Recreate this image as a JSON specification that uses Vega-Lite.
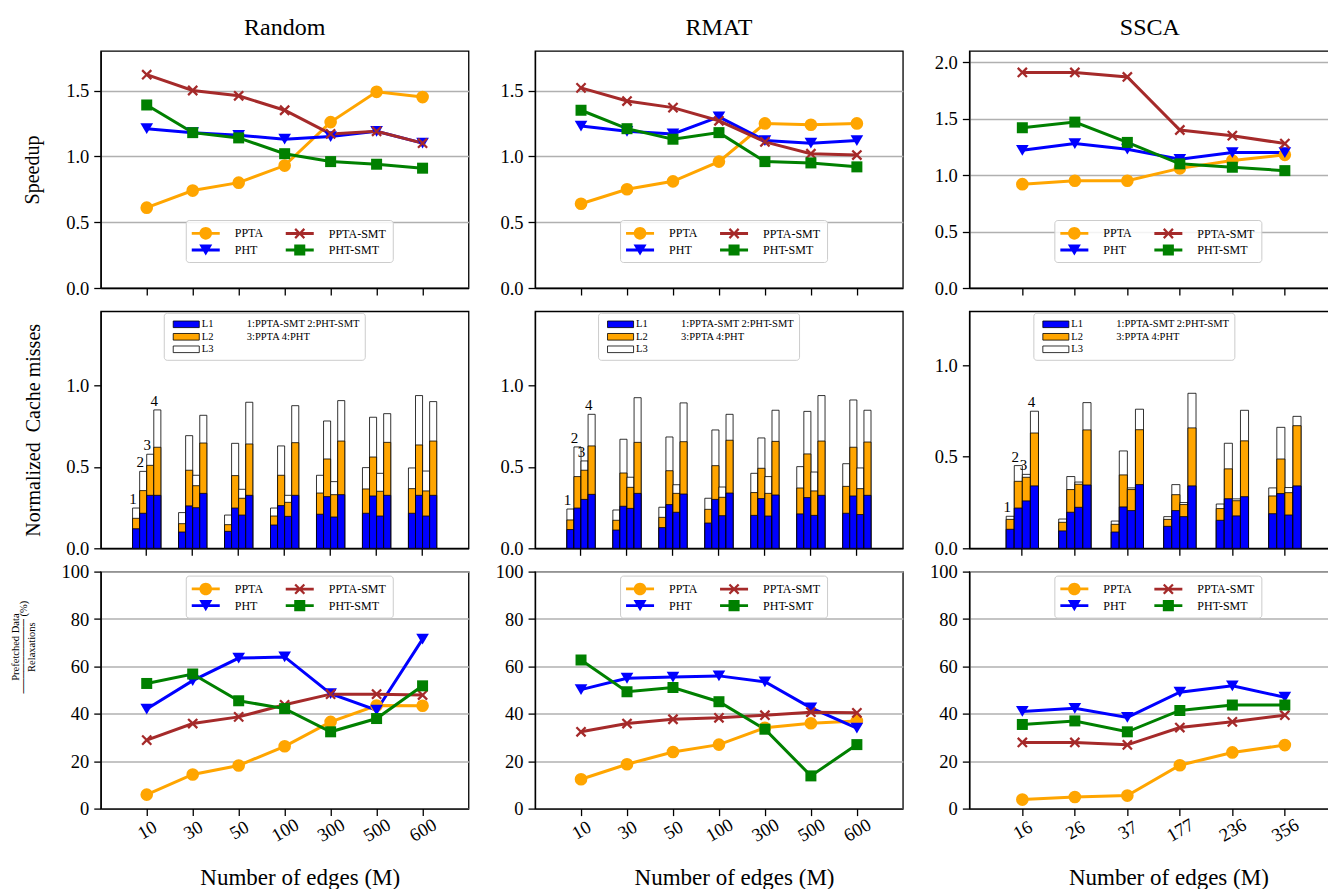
{
  "$schema": "https://vega.github.io/schema/vega-lite/v6.json",
  "padding": {"left": 9.75, "top": 15, "right": 0, "bottom": 0},
  "background": "white",
  "datasets": {
    "speed": [
      {"set":"Random","edges":10,"series":"PPTA","v":0.61},{"set":"Random","edges":30,"series":"PPTA","v":0.74},{"set":"Random","edges":50,"series":"PPTA","v":0.80},{"set":"Random","edges":100,"series":"PPTA","v":0.93},{"set":"Random","edges":300,"series":"PPTA","v":1.26},{"set":"Random","edges":500,"series":"PPTA","v":1.49},{"set":"Random","edges":600,"series":"PPTA","v":1.45},
      {"set":"Random","edges":10,"series":"PHT","v":1.21},{"set":"Random","edges":30,"series":"PHT","v":1.18},{"set":"Random","edges":50,"series":"PHT","v":1.16},{"set":"Random","edges":100,"series":"PHT","v":1.13},{"set":"Random","edges":300,"series":"PHT","v":1.15},{"set":"Random","edges":500,"series":"PHT","v":1.19},{"set":"Random","edges":600,"series":"PHT","v":1.10},
      {"set":"Random","edges":10,"series":"PPTA-SMT","v":1.62},{"set":"Random","edges":30,"series":"PPTA-SMT","v":1.50},{"set":"Random","edges":50,"series":"PPTA-SMT","v":1.46},{"set":"Random","edges":100,"series":"PPTA-SMT","v":1.35},{"set":"Random","edges":300,"series":"PPTA-SMT","v":1.17},{"set":"Random","edges":500,"series":"PPTA-SMT","v":1.19},{"set":"Random","edges":600,"series":"PPTA-SMT","v":1.10},
      {"set":"Random","edges":10,"series":"PHT-SMT","v":1.39},{"set":"Random","edges":30,"series":"PHT-SMT","v":1.18},{"set":"Random","edges":50,"series":"PHT-SMT","v":1.14},{"set":"Random","edges":100,"series":"PHT-SMT","v":1.02},{"set":"Random","edges":300,"series":"PHT-SMT","v":0.96},{"set":"Random","edges":500,"series":"PHT-SMT","v":0.94},{"set":"Random","edges":600,"series":"PHT-SMT","v":0.91},
      {"set":"RMAT","edges":10,"series":"PPTA","v":0.64},{"set":"RMAT","edges":30,"series":"PPTA","v":0.75},{"set":"RMAT","edges":50,"series":"PPTA","v":0.81},{"set":"RMAT","edges":100,"series":"PPTA","v":0.96},{"set":"RMAT","edges":300,"series":"PPTA","v":1.25},{"set":"RMAT","edges":500,"series":"PPTA","v":1.24},{"set":"RMAT","edges":600,"series":"PPTA","v":1.25},
      {"set":"RMAT","edges":10,"series":"PHT","v":1.23},{"set":"RMAT","edges":30,"series":"PHT","v":1.19},{"set":"RMAT","edges":50,"series":"PHT","v":1.17},{"set":"RMAT","edges":100,"series":"PHT","v":1.30},{"set":"RMAT","edges":300,"series":"PHT","v":1.12},{"set":"RMAT","edges":500,"series":"PHT","v":1.10},{"set":"RMAT","edges":600,"series":"PHT","v":1.12},
      {"set":"RMAT","edges":10,"series":"PPTA-SMT","v":1.52},{"set":"RMAT","edges":30,"series":"PPTA-SMT","v":1.42},{"set":"RMAT","edges":50,"series":"PPTA-SMT","v":1.37},{"set":"RMAT","edges":100,"series":"PPTA-SMT","v":1.27},{"set":"RMAT","edges":300,"series":"PPTA-SMT","v":1.11},{"set":"RMAT","edges":500,"series":"PPTA-SMT","v":1.02},{"set":"RMAT","edges":600,"series":"PPTA-SMT","v":1.01},
      {"set":"RMAT","edges":10,"series":"PHT-SMT","v":1.35},{"set":"RMAT","edges":30,"series":"PHT-SMT","v":1.21},{"set":"RMAT","edges":50,"series":"PHT-SMT","v":1.13},{"set":"RMAT","edges":100,"series":"PHT-SMT","v":1.18},{"set":"RMAT","edges":300,"series":"PHT-SMT","v":0.96},{"set":"RMAT","edges":500,"series":"PHT-SMT","v":0.95},{"set":"RMAT","edges":600,"series":"PHT-SMT","v":0.92},
      {"set":"SSCA","edges":16,"series":"PPTA","v":0.92},{"set":"SSCA","edges":26,"series":"PPTA","v":0.95},{"set":"SSCA","edges":37,"series":"PPTA","v":0.95},{"set":"SSCA","edges":177,"series":"PPTA","v":1.06},{"set":"SSCA","edges":236,"series":"PPTA","v":1.13},{"set":"SSCA","edges":356,"series":"PPTA","v":1.18},
      {"set":"SSCA","edges":16,"series":"PHT","v":1.22},{"set":"SSCA","edges":26,"series":"PHT","v":1.28},{"set":"SSCA","edges":37,"series":"PHT","v":1.23},{"set":"SSCA","edges":177,"series":"PHT","v":1.14},{"set":"SSCA","edges":236,"series":"PHT","v":1.20},{"set":"SSCA","edges":356,"series":"PHT","v":1.20},
      {"set":"SSCA","edges":16,"series":"PPTA-SMT","v":1.91},{"set":"SSCA","edges":26,"series":"PPTA-SMT","v":1.91},{"set":"SSCA","edges":37,"series":"PPTA-SMT","v":1.87},{"set":"SSCA","edges":177,"series":"PPTA-SMT","v":1.40},{"set":"SSCA","edges":236,"series":"PPTA-SMT","v":1.35},{"set":"SSCA","edges":356,"series":"PPTA-SMT","v":1.28},
      {"set":"SSCA","edges":16,"series":"PHT-SMT","v":1.42},{"set":"SSCA","edges":26,"series":"PHT-SMT","v":1.47},{"set":"SSCA","edges":37,"series":"PHT-SMT","v":1.29},{"set":"SSCA","edges":177,"series":"PHT-SMT","v":1.10},{"set":"SSCA","edges":236,"series":"PHT-SMT","v":1.07},{"set":"SSCA","edges":356,"series":"PHT-SMT","v":1.04}
    ],
    "pref": [
      {"set":"Random","edges":10,"series":"PPTA","v":5.9},{"set":"Random","edges":30,"series":"PPTA","v":14.4},{"set":"Random","edges":50,"series":"PPTA","v":18.2},{"set":"Random","edges":100,"series":"PPTA","v":26.3},{"set":"Random","edges":300,"series":"PPTA","v":36.6},{"set":"Random","edges":500,"series":"PPTA","v":43.5},{"set":"Random","edges":600,"series":"PPTA","v":43.4},
      {"set":"Random","edges":10,"series":"PHT","v":42.0},{"set":"Random","edges":30,"series":"PHT","v":54.0},{"set":"Random","edges":50,"series":"PHT","v":63.5},{"set":"Random","edges":100,"series":"PHT","v":64.0},{"set":"Random","edges":300,"series":"PHT","v":48.5},{"set":"Random","edges":500,"series":"PHT","v":41.5},{"set":"Random","edges":600,"series":"PHT","v":71.5},
      {"set":"Random","edges":10,"series":"PPTA-SMT","v":28.9},{"set":"Random","edges":30,"series":"PPTA-SMT","v":35.9},{"set":"Random","edges":50,"series":"PPTA-SMT","v":38.7},{"set":"Random","edges":100,"series":"PPTA-SMT","v":43.8},{"set":"Random","edges":300,"series":"PPTA-SMT","v":48.3},{"set":"Random","edges":500,"series":"PPTA-SMT","v":48.3},{"set":"Random","edges":600,"series":"PPTA-SMT","v":47.9},
      {"set":"Random","edges":10,"series":"PHT-SMT","v":52.8},{"set":"Random","edges":30,"series":"PHT-SMT","v":56.8},{"set":"Random","edges":50,"series":"PHT-SMT","v":45.5},{"set":"Random","edges":100,"series":"PHT-SMT","v":42.2},{"set":"Random","edges":300,"series":"PHT-SMT","v":32.4},{"set":"Random","edges":500,"series":"PHT-SMT","v":38.0},{"set":"Random","edges":600,"series":"PHT-SMT","v":51.8},
      {"set":"RMAT","edges":10,"series":"PPTA","v":12.4},{"set":"RMAT","edges":30,"series":"PPTA","v":18.7},{"set":"RMAT","edges":50,"series":"PPTA","v":23.9},{"set":"RMAT","edges":100,"series":"PPTA","v":27.0},{"set":"RMAT","edges":300,"series":"PPTA","v":34.1},{"set":"RMAT","edges":500,"series":"PPTA","v":36.0},{"set":"RMAT","edges":600,"series":"PPTA","v":37.0},
      {"set":"RMAT","edges":10,"series":"PHT","v":50.2},{"set":"RMAT","edges":30,"series":"PHT","v":55.0},{"set":"RMAT","edges":50,"series":"PHT","v":55.5},{"set":"RMAT","edges":100,"series":"PHT","v":56.0},{"set":"RMAT","edges":300,"series":"PHT","v":53.5},{"set":"RMAT","edges":500,"series":"PHT","v":42.5},{"set":"RMAT","edges":600,"series":"PHT","v":34.0},
      {"set":"RMAT","edges":10,"series":"PPTA-SMT","v":32.4},{"set":"RMAT","edges":30,"series":"PPTA-SMT","v":35.9},{"set":"RMAT","edges":50,"series":"PPTA-SMT","v":37.7},{"set":"RMAT","edges":100,"series":"PPTA-SMT","v":38.3},{"set":"RMAT","edges":300,"series":"PPTA-SMT","v":39.4},{"set":"RMAT","edges":500,"series":"PPTA-SMT","v":40.7},{"set":"RMAT","edges":600,"series":"PPTA-SMT","v":40.4},
      {"set":"RMAT","edges":10,"series":"PHT-SMT","v":62.7},{"set":"RMAT","edges":30,"series":"PHT-SMT","v":49.3},{"set":"RMAT","edges":50,"series":"PHT-SMT","v":51.1},{"set":"RMAT","edges":100,"series":"PHT-SMT","v":45.1},{"set":"RMAT","edges":300,"series":"PHT-SMT","v":33.5},{"set":"RMAT","edges":500,"series":"PHT-SMT","v":13.8},{"set":"RMAT","edges":600,"series":"PHT-SMT","v":27.0},
      {"set":"SSCA","edges":16,"series":"PPTA","v":3.8},{"set":"SSCA","edges":26,"series":"PPTA","v":4.9},{"set":"SSCA","edges":37,"series":"PPTA","v":5.5},{"set":"SSCA","edges":177,"series":"PPTA","v":18.3},{"set":"SSCA","edges":236,"series":"PPTA","v":23.7},{"set":"SSCA","edges":356,"series":"PPTA","v":26.8},
      {"set":"SSCA","edges":16,"series":"PHT","v":41.0},{"set":"SSCA","edges":26,"series":"PHT","v":42.3},{"set":"SSCA","edges":37,"series":"PHT","v":38.5},{"set":"SSCA","edges":177,"series":"PHT","v":49.1},{"set":"SSCA","edges":236,"series":"PHT","v":51.8},{"set":"SSCA","edges":356,"series":"PHT","v":47.0},
      {"set":"SSCA","edges":16,"series":"PPTA-SMT","v":27.9},{"set":"SSCA","edges":26,"series":"PPTA-SMT","v":27.9},{"set":"SSCA","edges":37,"series":"PPTA-SMT","v":26.9},{"set":"SSCA","edges":177,"series":"PPTA-SMT","v":34.2},{"set":"SSCA","edges":236,"series":"PPTA-SMT","v":36.6},{"set":"SSCA","edges":356,"series":"PPTA-SMT","v":39.4},
      {"set":"SSCA","edges":16,"series":"PHT-SMT","v":35.5},{"set":"SSCA","edges":26,"series":"PHT-SMT","v":37.0},{"set":"SSCA","edges":37,"series":"PHT-SMT","v":32.4},{"set":"SSCA","edges":177,"series":"PHT-SMT","v":41.4},{"set":"SSCA","edges":236,"series":"PHT-SMT","v":43.7},{"set":"SSCA","edges":356,"series":"PHT-SMT","v":43.7}
    ],
    "cache": [
      {"set":"Random","edges":10,"bar":1,"L1":0.120,"L2":0.184,"L3":0.247},{"set":"Random","edges":10,"bar":2,"L1":0.215,"L2":0.354,"L3":0.472},{"set":"Random","edges":10,"bar":3,"L1":0.325,"L2":0.509,"L3":0.577},{"set":"Random","edges":10,"bar":4,"L1":0.325,"L2":0.620,"L3":0.849},
      {"set":"Random","edges":30,"bar":1,"L1":0.100,"L2":0.151,"L3":0.219},{"set":"Random","edges":30,"bar":2,"L1":0.260,"L2":0.479,"L3":0.691},{"set":"Random","edges":30,"bar":3,"L1":0.249,"L2":0.384,"L3":0.448},{"set":"Random","edges":30,"bar":4,"L1":0.337,"L2":0.646,"L3":0.816},
      {"set":"Random","edges":50,"bar":1,"L1":0.104,"L2":0.145,"L3":0.204},{"set":"Random","edges":50,"bar":2,"L1":0.247,"L2":0.446,"L3":0.644},{"set":"Random","edges":50,"bar":3,"L1":0.204,"L2":0.307,"L3":0.362},{"set":"Random","edges":50,"bar":4,"L1":0.325,"L2":0.640,"L3":0.896},
      {"set":"Random","edges":100,"bar":1,"L1":0.143,"L2":0.198,"L3":0.247},{"set":"Random","edges":100,"bar":2,"L1":0.262,"L2":0.448,"L3":0.628},{"set":"Random","edges":100,"bar":3,"L1":0.196,"L2":0.282,"L3":0.325},{"set":"Random","edges":100,"bar":4,"L1":0.325,"L2":0.648,"L3":0.875},
      {"set":"Random","edges":300,"bar":1,"L1":0.209,"L2":0.339,"L3":0.448},{"set":"Random","edges":300,"bar":2,"L1":0.317,"L2":0.548,"L3":0.781},{"set":"Random","edges":300,"bar":3,"L1":0.192,"L2":0.329,"L3":0.409},{"set":"Random","edges":300,"bar":4,"L1":0.329,"L2":0.658,"L3":0.906},
      {"set":"Random","edges":500,"bar":1,"L1":0.215,"L2":0.364,"L3":0.495},{"set":"Random","edges":500,"bar":2,"L1":0.321,"L2":0.560,"L3":0.804},{"set":"Random","edges":500,"bar":3,"L1":0.198,"L2":0.350,"L3":0.460},{"set":"Random","edges":500,"bar":4,"L1":0.325,"L2":0.650,"L3":0.826},
      {"set":"Random","edges":600,"bar":1,"L1":0.215,"L2":0.366,"L3":0.493},{"set":"Random","edges":600,"bar":2,"L1":0.325,"L2":0.634,"L3":0.937},{"set":"Random","edges":600,"bar":3,"L1":0.198,"L2":0.352,"L3":0.474},{"set":"Random","edges":600,"bar":4,"L1":0.325,"L2":0.658,"L3":0.900},
      {"set":"RMAT","edges":10,"bar":1,"L1":0.115,"L2":0.174,"L3":0.241},{"set":"RMAT","edges":10,"bar":2,"L1":0.247,"L2":0.440,"L3":0.622},{"set":"RMAT","edges":10,"bar":3,"L1":0.300,"L2":0.479,"L3":0.536},{"set":"RMAT","edges":10,"bar":4,"L1":0.331,"L2":0.628,"L3":0.822},
      {"set":"RMAT","edges":30,"bar":1,"L1":0.112,"L2":0.172,"L3":0.235},{"set":"RMAT","edges":30,"bar":2,"L1":0.258,"L2":0.462,"L3":0.669},{"set":"RMAT","edges":30,"bar":3,"L1":0.245,"L2":0.374,"L3":0.436},{"set":"RMAT","edges":30,"bar":4,"L1":0.337,"L2":0.650,"L3":0.924},
      {"set":"RMAT","edges":50,"bar":1,"L1":0.127,"L2":0.190,"L3":0.252},{"set":"RMAT","edges":50,"bar":2,"L1":0.268,"L2":0.476,"L3":0.683},{"set":"RMAT","edges":50,"bar":3,"L1":0.221,"L2":0.337,"L3":0.390},{"set":"RMAT","edges":50,"bar":4,"L1":0.333,"L2":0.654,"L3":0.892},
      {"set":"RMAT","edges":100,"bar":1,"L1":0.155,"L2":0.239,"L3":0.307},{"set":"RMAT","edges":100,"bar":2,"L1":0.300,"L2":0.507,"L3":0.726},{"set":"RMAT","edges":100,"bar":3,"L1":0.200,"L2":0.313,"L3":0.376},{"set":"RMAT","edges":100,"bar":4,"L1":0.339,"L2":0.663,"L3":0.822},
      {"set":"RMAT","edges":300,"bar":1,"L1":0.202,"L2":0.342,"L3":0.460},{"set":"RMAT","edges":300,"bar":2,"L1":0.305,"L2":0.491,"L3":0.677},{"set":"RMAT","edges":300,"bar":3,"L1":0.198,"L2":0.337,"L3":0.440},{"set":"RMAT","edges":300,"bar":4,"L1":0.327,"L2":0.656,"L3":0.847},
      {"set":"RMAT","edges":500,"bar":1,"L1":0.211,"L2":0.370,"L3":0.501},{"set":"RMAT","edges":500,"bar":2,"L1":0.311,"L2":0.579,"L3":0.840},{"set":"RMAT","edges":500,"bar":3,"L1":0.202,"L2":0.352,"L3":0.468},{"set":"RMAT","edges":500,"bar":4,"L1":0.325,"L2":0.658,"L3":0.937},
      {"set":"RMAT","edges":600,"bar":1,"L1":0.215,"L2":0.380,"L3":0.519},{"set":"RMAT","edges":600,"bar":2,"L1":0.321,"L2":0.620,"L3":0.910},{"set":"RMAT","edges":600,"bar":3,"L1":0.207,"L2":0.366,"L3":0.493},{"set":"RMAT","edges":600,"bar":4,"L1":0.325,"L2":0.652,"L3":0.847},
      {"set":"SSCA","edges":16,"bar":1,"L1":0.104,"L2":0.158,"L3":0.175},{"set":"SSCA","edges":16,"bar":2,"L1":0.220,"L2":0.366,"L3":0.452},{"set":"SSCA","edges":16,"bar":3,"L1":0.259,"L2":0.388,"L3":0.404},{"set":"SSCA","edges":16,"bar":4,"L1":0.341,"L2":0.630,"L3":0.749},
      {"set":"SSCA","edges":26,"bar":1,"L1":0.095,"L2":0.142,"L3":0.160},{"set":"SSCA","edges":26,"bar":2,"L1":0.197,"L2":0.321,"L3":0.392},{"set":"SSCA","edges":26,"bar":3,"L1":0.224,"L2":0.350,"L3":0.362},{"set":"SSCA","edges":26,"bar":4,"L1":0.346,"L2":0.647,"L3":0.796},
      {"set":"SSCA","edges":37,"bar":1,"L1":0.089,"L2":0.131,"L3":0.149},{"set":"SSCA","edges":37,"bar":2,"L1":0.226,"L2":0.401,"L3":0.532},{"set":"SSCA","edges":37,"bar":3,"L1":0.206,"L2":0.321,"L3":0.330},{"set":"SSCA","edges":37,"bar":4,"L1":0.348,"L2":0.648,"L3":0.760},
      {"set":"SSCA","edges":177,"bar":1,"L1":0.120,"L2":0.158,"L3":0.173},{"set":"SSCA","edges":177,"bar":2,"L1":0.206,"L2":0.293,"L3":0.348},{"set":"SSCA","edges":177,"bar":3,"L1":0.173,"L2":0.239,"L3":0.250},{"set":"SSCA","edges":177,"bar":4,"L1":0.341,"L2":0.658,"L3":0.847},
      {"set":"SSCA","edges":236,"bar":1,"L1":0.153,"L2":0.217,"L3":0.242},{"set":"SSCA","edges":236,"bar":2,"L1":0.271,"L2":0.434,"L3":0.574},{"set":"SSCA","edges":236,"bar":3,"L1":0.177,"L2":0.260,"L3":0.270},{"set":"SSCA","edges":236,"bar":4,"L1":0.282,"L2":0.587,"L3":0.754},
      {"set":"SSCA","edges":356,"bar":1,"L1":0.189,"L2":0.286,"L3":0.330},{"set":"SSCA","edges":356,"bar":2,"L1":0.299,"L2":0.488,"L3":0.661},{"set":"SSCA","edges":356,"bar":3,"L1":0.182,"L2":0.304,"L3":0.332},{"set":"SSCA","edges":356,"bar":4,"L1":0.341,"L2":0.670,"L3":0.721}
    ]
  },
  "columns": 3,
  "bounds": "flush",
  "spacing": {"row": 23.3, "column": 66.3},
  "concat": [
    {
      "width": 367.8, "height": 237,
      "title": {"text": "Random", "fontSize": 24, "offset": 11},
      "data": {"name": "speed"},
      "transform": [{"filter": "datum.set === 'Random'"}],
      "encoding": {
        "x": {"field": "edges", "type": "ordinal", "scale": {"type": "point", "padding": 1}, "axis": {"labels": false, "title": null, "grid": false}},
        "y": {"field": "v", "type": "quantitative", "scale": {"domain": [0, 1.8]}, "axis": {"values": [0, 0.5, 1, 1.5], "format": ".1f", "grid": true, "title": "Speedup", "titleX": -68, "titleY": 118.5, "titleBaseline": "middle"}}
      },
      "layer": [
        {"mark": {"type": "point", "filled": true, "size": 1, "opacity": 1, "strokeWidth": 0},
         "encoding": {
           "color": {"field": "series", "type": "nominal", "scale": {"domain": ["PPTA", "PHT", "PPTA-SMT", "PHT-SMT"], "range": ["#ffa500", "#0000ff", "#a52a2a", "#008000"]},
             "legend": {"orient": "none", "legendX": 85, "legendY": 169, "title": null, "columns": 2, "columnPadding": 22, "rowPadding": 3, "padding": 6, "symbolSize": 196, "symbolOffset": 7, "labelOffset": 22, "symbolStrokeWidth": 0, "labelFontSize": 12}},
           "shape": {"field": "series", "type": "nominal", "scale": {"domain": ["PPTA", "PHT", "PPTA-SMT", "PHT-SMT"], "range": ["M-2,-0.2H2V0.2H-2Z M-0.9,0A0.9,0.9 0 1,1 0.9,0A0.9,0.9 0 1,1 -0.9,0Z", "M-2,-0.2H2V0.2H-2Z M-0.93,-0.79L0.93,-0.79L0,0.79Z", "M-2,-0.2H2V0.2H-2Z M-0.77,-0.54L-0.54,-0.77L0,-0.23L0.54,-0.77L0.77,-0.54L0.23,0L0.77,0.54L0.54,0.77L0,0.23L-0.54,0.77L-0.77,0.54L-0.23,0Z", "M-2,-0.2H2V0.2H-2Z M-0.79,-0.79H0.79V0.79H-0.79Z"]},
             "legend": {"orient": "none", "legendX": 85, "legendY": 169, "title": null, "columns": 2, "columnPadding": 22, "rowPadding": 3, "padding": 6, "symbolSize": 196, "symbolOffset": 7, "labelOffset": 22, "symbolStrokeWidth": 0, "labelFontSize": 12}}
         }},
        {"mark": {"type": "line", "strokeWidth": 3},
         "encoding": {"color": {"field": "series", "type": "nominal", "scale": {"domain": ["PPTA", "PHT", "PPTA-SMT", "PHT-SMT"], "range": ["#ffa500", "#0000ff", "#a52a2a", "#008000"]}, "legend": null}}},
        {"mark": {"type": "point", "filled": true, "size": 160, "opacity": 1, "strokeWidth": 0},
         "encoding": {
           "color": {"field": "series", "type": "nominal", "scale": {"domain": ["PPTA", "PHT", "PPTA-SMT", "PHT-SMT"], "range": ["#ffa500", "#0000ff", "#a52a2a", "#008000"]}, "legend": null},
           "shape": {"field": "series", "type": "nominal", "scale": {"domain": ["PPTA", "PHT", "PPTA-SMT", "PHT-SMT"], "range": ["circle", "M-1,-0.85L1,-0.85L0,0.85Z", "M-0.85,-0.6L-0.6,-0.85L0,-0.26L0.6,-0.85L0.85,-0.6L0.26,0L0.85,0.6L0.6,0.85L0,0.26L-0.6,0.85L-0.85,0.6L-0.26,0Z", "M-0.87,-0.87H0.87V0.87H-0.87Z"]}, "legend": null}
         }}
      ],
      "resolve": {"scale": {"color": "independent", "shape": "independent"}, "legend": {"color": "independent", "shape": "independent"}}
    },
    {
      "width": 367.8, "height": 237,
      "title": {"text": "RMAT", "fontSize": 24, "offset": 11},
      "data": {"name": "speed"},
      "transform": [{"filter": "datum.set === 'RMAT'"}],
      "encoding": {
        "x": {"field": "edges", "type": "ordinal", "scale": {"type": "point", "padding": 1}, "axis": {"labels": false, "title": null, "grid": false}},
        "y": {"field": "v", "type": "quantitative", "scale": {"domain": [0, 1.8]}, "axis": {"values": [0, 0.5, 1, 1.5], "format": ".1f", "grid": true, "title": null}}
      },
      "layer": [
        {"mark": {"type": "point", "filled": true, "size": 1, "opacity": 1, "strokeWidth": 0},
         "encoding": {
           "color": {"field": "series", "type": "nominal", "scale": {"domain": ["PPTA", "PHT", "PPTA-SMT", "PHT-SMT"], "range": ["#ffa500", "#0000ff", "#a52a2a", "#008000"]},
             "legend": {"orient": "none", "legendX": 85, "legendY": 169, "title": null, "columns": 2, "columnPadding": 22, "rowPadding": 3, "padding": 6, "symbolSize": 196, "symbolOffset": 7, "labelOffset": 22, "symbolStrokeWidth": 0, "labelFontSize": 12}},
           "shape": {"field": "series", "type": "nominal", "scale": {"domain": ["PPTA", "PHT", "PPTA-SMT", "PHT-SMT"], "range": ["M-2,-0.2H2V0.2H-2Z M-0.9,0A0.9,0.9 0 1,1 0.9,0A0.9,0.9 0 1,1 -0.9,0Z", "M-2,-0.2H2V0.2H-2Z M-0.93,-0.79L0.93,-0.79L0,0.79Z", "M-2,-0.2H2V0.2H-2Z M-0.77,-0.54L-0.54,-0.77L0,-0.23L0.54,-0.77L0.77,-0.54L0.23,0L0.77,0.54L0.54,0.77L0,0.23L-0.54,0.77L-0.77,0.54L-0.23,0Z", "M-2,-0.2H2V0.2H-2Z M-0.79,-0.79H0.79V0.79H-0.79Z"]},
             "legend": {"orient": "none", "legendX": 85, "legendY": 169, "title": null, "columns": 2, "columnPadding": 22, "rowPadding": 3, "padding": 6, "symbolSize": 196, "symbolOffset": 7, "labelOffset": 22, "symbolStrokeWidth": 0, "labelFontSize": 12}}
         }},
        {"mark": {"type": "line", "strokeWidth": 3},
         "encoding": {"color": {"field": "series", "type": "nominal", "scale": {"domain": ["PPTA", "PHT", "PPTA-SMT", "PHT-SMT"], "range": ["#ffa500", "#0000ff", "#a52a2a", "#008000"]}, "legend": null}}},
        {"mark": {"type": "point", "filled": true, "size": 160, "opacity": 1, "strokeWidth": 0},
         "encoding": {
           "color": {"field": "series", "type": "nominal", "scale": {"domain": ["PPTA", "PHT", "PPTA-SMT", "PHT-SMT"], "range": ["#ffa500", "#0000ff", "#a52a2a", "#008000"]}, "legend": null},
           "shape": {"field": "series", "type": "nominal", "scale": {"domain": ["PPTA", "PHT", "PPTA-SMT", "PHT-SMT"], "range": ["circle", "M-1,-0.85L1,-0.85L0,0.85Z", "M-0.85,-0.6L-0.6,-0.85L0,-0.26L0.6,-0.85L0.85,-0.6L0.26,0L0.85,0.6L0.6,0.85L0,0.26L-0.6,0.85L-0.85,0.6L-0.26,0Z", "M-0.87,-0.87H0.87V0.87H-0.87Z"]}, "legend": null}
         }}
      ],
      "resolve": {"scale": {"color": "independent", "shape": "independent"}, "legend": {"color": "independent", "shape": "independent"}}
    },
    {
      "width": 361, "height": 237,
      "title": {"text": "SSCA", "fontSize": 24, "offset": 11},
      "data": {"name": "speed"},
      "transform": [{"filter": "datum.set === 'SSCA'"}],
      "encoding": {
        "x": {"field": "edges", "type": "ordinal", "scale": {"type": "point", "padding": 0.938, "align": 0.538}, "axis": {"labels": false, "title": null, "grid": false}},
        "y": {"field": "v", "type": "quantitative", "scale": {"domain": [0, 2.1]}, "axis": {"values": [0, 0.5, 1, 1.5, 2], "format": ".1f", "grid": true, "title": null}}
      },
      "layer": [
        {"mark": {"type": "point", "filled": true, "size": 1, "opacity": 1, "strokeWidth": 0},
         "encoding": {
           "color": {"field": "series", "type": "nominal", "scale": {"domain": ["PPTA", "PHT", "PPTA-SMT", "PHT-SMT"], "range": ["#ffa500", "#0000ff", "#a52a2a", "#008000"]},
             "legend": {"orient": "none", "legendX": 85, "legendY": 169, "title": null, "columns": 2, "columnPadding": 22, "rowPadding": 3, "padding": 6, "symbolSize": 196, "symbolOffset": 7, "labelOffset": 22, "symbolStrokeWidth": 0, "labelFontSize": 12}},
           "shape": {"field": "series", "type": "nominal", "scale": {"domain": ["PPTA", "PHT", "PPTA-SMT", "PHT-SMT"], "range": ["M-2,-0.2H2V0.2H-2Z M-0.9,0A0.9,0.9 0 1,1 0.9,0A0.9,0.9 0 1,1 -0.9,0Z", "M-2,-0.2H2V0.2H-2Z M-0.93,-0.79L0.93,-0.79L0,0.79Z", "M-2,-0.2H2V0.2H-2Z M-0.77,-0.54L-0.54,-0.77L0,-0.23L0.54,-0.77L0.77,-0.54L0.23,0L0.77,0.54L0.54,0.77L0,0.23L-0.54,0.77L-0.77,0.54L-0.23,0Z", "M-2,-0.2H2V0.2H-2Z M-0.79,-0.79H0.79V0.79H-0.79Z"]},
             "legend": {"orient": "none", "legendX": 85, "legendY": 169, "title": null, "columns": 2, "columnPadding": 22, "rowPadding": 3, "padding": 6, "symbolSize": 196, "symbolOffset": 7, "labelOffset": 22, "symbolStrokeWidth": 0, "labelFontSize": 12}}
         }},
        {"mark": {"type": "line", "strokeWidth": 3},
         "encoding": {"color": {"field": "series", "type": "nominal", "scale": {"domain": ["PPTA", "PHT", "PPTA-SMT", "PHT-SMT"], "range": ["#ffa500", "#0000ff", "#a52a2a", "#008000"]}, "legend": null}}},
        {"mark": {"type": "point", "filled": true, "size": 160, "opacity": 1, "strokeWidth": 0},
         "encoding": {
           "color": {"field": "series", "type": "nominal", "scale": {"domain": ["PPTA", "PHT", "PPTA-SMT", "PHT-SMT"], "range": ["#ffa500", "#0000ff", "#a52a2a", "#008000"]}, "legend": null},
           "shape": {"field": "series", "type": "nominal", "scale": {"domain": ["PPTA", "PHT", "PPTA-SMT", "PHT-SMT"], "range": ["circle", "M-1,-0.85L1,-0.85L0,0.85Z", "M-0.85,-0.6L-0.6,-0.85L0,-0.26L0.6,-0.85L0.85,-0.6L0.26,0L0.85,0.6L0.6,0.85L0,0.26L-0.6,0.85L-0.85,0.6L-0.26,0Z", "M-0.87,-0.87H0.87V0.87H-0.87Z"]}, "legend": null}
         }}
      ],
      "resolve": {"scale": {"color": "independent", "shape": "independent"}, "legend": {"color": "independent", "shape": "independent"}}
    },
    {
      "width": 367.8, "height": 237,
      "data": {"name": "cache"},
      "transform": [{"filter": "datum.set === 'Random'"}],
      "encoding": {
        "x": {"field": "edges", "type": "ordinal", "scale": {"type": "band", "paddingInner": 0.385, "paddingOuter": 0.6925}, "axis": {"labels": false, "title": null, "grid": false, "bandPosition": 0.5}},
        "xOffset": {"field": "bar", "type": "ordinal", "scale": {"paddingInner": 0, "paddingOuter": 0}}
      },
      "layer": [
        {"transform": [{"fold": ["L3", "L2", "L1"], "as": ["level", "value"]}],
         "mark": {"type": "bar", "strokeWidth": 0.8, "opacity": 1},
         "encoding": {
           "y": {"field": "value", "type": "quantitative", "stack": null, "scale": {"domain": [0, 1.454]}, "axis": {"values": [0, 0.5, 1], "format": ".1f", "grid": false, "title": "Normalized\u00a0 Cache misses", "titleX": -67, "titleY": 118.5, "titleBaseline": "middle"}},
           "fill": {"field": "level", "type": "nominal", "scale": {"domain": ["L1", "L2", "L3", "1:PPTA-SMT 2:PHT-SMT", "3:PPTA 4:PHT"], "range": ["#0000ff", "#ffa500", "#ffffff", "#ffffff", "#ffffff"]},
             "legend": {"orient": "none", "legendX": 63, "legendY": 1.5, "title": null, "columns": 2, "columnPadding": -5, "rowPadding": 0.5, "padding": 5, "symbolSize": 144, "symbolOffset": 11, "labelOffset": 9, "symbolType": "M-2.17,-0.55H2.17V0.55H-2.17Z", "symbolStrokeWidth": 0.8, "labelFontSize": 10.5}},
           "stroke": {"field": "level", "type": "nominal", "scale": {"domain": ["L1", "L2", "L3", "1:PPTA-SMT 2:PHT-SMT", "3:PPTA 4:PHT"], "range": ["#000000", "#000000", "#000000", "transparent", "transparent"]},
             "legend": {"orient": "none", "legendX": 63, "legendY": 1.5, "title": null, "columns": 2, "columnPadding": -5, "rowPadding": 0.5, "padding": 5, "symbolSize": 144, "symbolOffset": 11, "labelOffset": 9, "symbolType": "M-2.17,-0.55H2.17V0.55H-2.17Z", "symbolStrokeWidth": 0.8, "labelFontSize": 10.5}}
         }},
        {"transform": [{"filter": "datum.edges === 10 || datum.edges === 16"}],
         "mark": {"type": "text", "fontSize": 15, "dx": -3, "dy": -4, "baseline": "alphabetic", "align": "center", "color": "black"},
         "encoding": {
           "y": {"field": "L3", "type": "quantitative", "scale": {"domain": [0, 1.454]}, "axis": {"values": [0, 0.5, 1], "format": ".1f", "grid": false, "title": "Normalized\u00a0 Cache misses", "titleX": -67, "titleY": 118.5, "titleBaseline": "middle"}},
           "text": {"field": "bar", "type": "nominal"}
         }}
      ]
    },
    {
      "width": 367.8, "height": 237,
      "data": {"name": "cache"},
      "transform": [{"filter": "datum.set === 'RMAT'"}],
      "encoding": {
        "x": {"field": "edges", "type": "ordinal", "scale": {"type": "band", "paddingInner": 0.385, "paddingOuter": 0.6925}, "axis": {"labels": false, "title": null, "grid": false, "bandPosition": 0.5}},
        "xOffset": {"field": "bar", "type": "ordinal", "scale": {"paddingInner": 0, "paddingOuter": 0}}
      },
      "layer": [
        {"transform": [{"fold": ["L3", "L2", "L1"], "as": ["level", "value"]}],
         "mark": {"type": "bar", "strokeWidth": 0.8, "opacity": 1},
         "encoding": {
           "y": {"field": "value", "type": "quantitative", "stack": null, "scale": {"domain": [0, 1.454]}, "axis": {"values": [0, 0.5, 1], "format": ".1f", "grid": false, "title": null}},
           "fill": {"field": "level", "type": "nominal", "scale": {"domain": ["L1", "L2", "L3", "1:PPTA-SMT 2:PHT-SMT", "3:PPTA 4:PHT"], "range": ["#0000ff", "#ffa500", "#ffffff", "#ffffff", "#ffffff"]},
             "legend": {"orient": "none", "legendX": 63, "legendY": 1.5, "title": null, "columns": 2, "columnPadding": -5, "rowPadding": 0.5, "padding": 5, "symbolSize": 144, "symbolOffset": 11, "labelOffset": 9, "symbolType": "M-2.17,-0.55H2.17V0.55H-2.17Z", "symbolStrokeWidth": 0.8, "labelFontSize": 10.5}},
           "stroke": {"field": "level", "type": "nominal", "scale": {"domain": ["L1", "L2", "L3", "1:PPTA-SMT 2:PHT-SMT", "3:PPTA 4:PHT"], "range": ["#000000", "#000000", "#000000", "transparent", "transparent"]},
             "legend": {"orient": "none", "legendX": 63, "legendY": 1.5, "title": null, "columns": 2, "columnPadding": -5, "rowPadding": 0.5, "padding": 5, "symbolSize": 144, "symbolOffset": 11, "labelOffset": 9, "symbolType": "M-2.17,-0.55H2.17V0.55H-2.17Z", "symbolStrokeWidth": 0.8, "labelFontSize": 10.5}}
         }},
        {"transform": [{"filter": "datum.edges === 10 || datum.edges === 16"}],
         "mark": {"type": "text", "fontSize": 15, "dx": -3, "dy": -4, "baseline": "alphabetic", "align": "center", "color": "black"},
         "encoding": {
           "y": {"field": "L3", "type": "quantitative", "scale": {"domain": [0, 1.454]}, "axis": {"values": [0, 0.5, 1], "format": ".1f", "grid": false, "title": null}},
           "text": {"field": "bar", "type": "nominal"}
         }}
      ]
    },
    {
      "width": 361, "height": 237,
      "data": {"name": "cache"},
      "transform": [{"filter": "datum.set === 'SSCA'"}],
      "encoding": {
        "x": {"field": "edges", "type": "ordinal", "scale": {"type": "band", "paddingInner": 0.385, "paddingOuter": 0.63, "align": 0.557}, "axis": {"labels": false, "title": null, "grid": false, "bandPosition": 0.5}},
        "xOffset": {"field": "bar", "type": "ordinal", "scale": {"paddingInner": 0, "paddingOuter": 0}}
      },
      "layer": [
        {"transform": [{"fold": ["L3", "L2", "L1"], "as": ["level", "value"]}],
         "mark": {"type": "bar", "strokeWidth": 0.8, "opacity": 1},
         "encoding": {
           "y": {"field": "value", "type": "quantitative", "stack": null, "scale": {"domain": [0, 1.295]}, "axis": {"values": [0, 0.5, 1], "format": ".1f", "grid": false, "title": null}},
           "fill": {"field": "level", "type": "nominal", "scale": {"domain": ["L1", "L2", "L3", "1:PPTA-SMT 2:PHT-SMT", "3:PPTA 4:PHT"], "range": ["#0000ff", "#ffa500", "#ffffff", "#ffffff", "#ffffff"]},
             "legend": {"orient": "none", "legendX": 64, "legendY": 1.5, "title": null, "columns": 2, "columnPadding": -5, "rowPadding": 0.5, "padding": 5, "symbolSize": 144, "symbolOffset": 11, "labelOffset": 9, "symbolType": "M-2.17,-0.55H2.17V0.55H-2.17Z", "symbolStrokeWidth": 0.8, "labelFontSize": 10.5}},
           "stroke": {"field": "level", "type": "nominal", "scale": {"domain": ["L1", "L2", "L3", "1:PPTA-SMT 2:PHT-SMT", "3:PPTA 4:PHT"], "range": ["#000000", "#000000", "#000000", "transparent", "transparent"]},
             "legend": {"orient": "none", "legendX": 64, "legendY": 1.5, "title": null, "columns": 2, "columnPadding": -5, "rowPadding": 0.5, "padding": 5, "symbolSize": 144, "symbolOffset": 11, "labelOffset": 9, "symbolType": "M-2.17,-0.55H2.17V0.55H-2.17Z", "symbolStrokeWidth": 0.8, "labelFontSize": 10.5}}
         }},
        {"transform": [{"filter": "datum.edges === 10 || datum.edges === 16"}],
         "mark": {"type": "text", "fontSize": 15, "dx": -3, "dy": -4, "baseline": "alphabetic", "align": "center", "color": "black"},
         "encoding": {
           "y": {"field": "L3", "type": "quantitative", "scale": {"domain": [0, 1.295]}, "axis": {"values": [0, 0.5, 1], "format": ".1f", "grid": false, "title": null}},
           "text": {"field": "bar", "type": "nominal"}
         }}
      ]
    },
    {
      "width": 367.8, "height": 237,
      "data": {"name": "pref"},
      "transform": [{"filter": "datum.set === 'Random'"}],
      "encoding": {
        "x": {"field": "edges", "type": "ordinal", "scale": {"type": "point", "padding": 1}, "axis": {"labelAngle": -30, "labelAlign": "center", "labelBaseline": "middle", "labelPadding": 14, "title": "Number of edges (M)", "titleFontSize": 23, "titleX": 199, "titleY": 69, "titleBaseline": "middle", "grid": false}},
        "y": {"field": "v", "type": "quantitative", "scale": {"domain": [0, 100]}, "axis": {"values": [0, 20, 40, 60, 80, 100], "grid": true, "title": ["Prefetched Data\u00a0\u00a0\u00a0\u00a0\u00a0\u00a0\u00a0", "\u2500\u2500\u2500\u2500\u2500\u2500\u2500\u2500\u2500\u2500 (%)", "Relaxations\u00a0\u00a0\u00a0\u00a0\u00a0\u00a0\u00a0"], "titleFontSize": 10.5, "titleLineHeight": 8, "titleX": -85, "titleY": 75, "titleBaseline": "middle"}}
      },
      "layer": [
        {"mark": {"type": "point", "filled": true, "size": 1, "opacity": 1, "strokeWidth": 0},
         "encoding": {
           "color": {"field": "series", "type": "nominal", "scale": {"domain": ["PPTA", "PHT", "PPTA-SMT", "PHT-SMT"], "range": ["#ffa500", "#0000ff", "#a52a2a", "#008000"]},
             "legend": {"orient": "none", "legendX": 85, "legendY": 4, "title": null, "columns": 2, "columnPadding": 22, "rowPadding": 3, "padding": 6, "symbolSize": 196, "symbolOffset": 7, "labelOffset": 22, "symbolStrokeWidth": 0, "labelFontSize": 12}},
           "shape": {"field": "series", "type": "nominal", "scale": {"domain": ["PPTA", "PHT", "PPTA-SMT", "PHT-SMT"], "range": ["M-2,-0.2H2V0.2H-2Z M-0.9,0A0.9,0.9 0 1,1 0.9,0A0.9,0.9 0 1,1 -0.9,0Z", "M-2,-0.2H2V0.2H-2Z M-0.93,-0.79L0.93,-0.79L0,0.79Z", "M-2,-0.2H2V0.2H-2Z M-0.77,-0.54L-0.54,-0.77L0,-0.23L0.54,-0.77L0.77,-0.54L0.23,0L0.77,0.54L0.54,0.77L0,0.23L-0.54,0.77L-0.77,0.54L-0.23,0Z", "M-2,-0.2H2V0.2H-2Z M-0.79,-0.79H0.79V0.79H-0.79Z"]},
             "legend": {"orient": "none", "legendX": 85, "legendY": 4, "title": null, "columns": 2, "columnPadding": 22, "rowPadding": 3, "padding": 6, "symbolSize": 196, "symbolOffset": 7, "labelOffset": 22, "symbolStrokeWidth": 0, "labelFontSize": 12}}
         }},
        {"mark": {"type": "line", "strokeWidth": 3},
         "encoding": {"color": {"field": "series", "type": "nominal", "scale": {"domain": ["PPTA", "PHT", "PPTA-SMT", "PHT-SMT"], "range": ["#ffa500", "#0000ff", "#a52a2a", "#008000"]}, "legend": null}}},
        {"mark": {"type": "point", "filled": true, "size": 160, "opacity": 1, "strokeWidth": 0},
         "encoding": {
           "color": {"field": "series", "type": "nominal", "scale": {"domain": ["PPTA", "PHT", "PPTA-SMT", "PHT-SMT"], "range": ["#ffa500", "#0000ff", "#a52a2a", "#008000"]}, "legend": null},
           "shape": {"field": "series", "type": "nominal", "scale": {"domain": ["PPTA", "PHT", "PPTA-SMT", "PHT-SMT"], "range": ["circle", "M-1,-0.85L1,-0.85L0,0.85Z", "M-0.85,-0.6L-0.6,-0.85L0,-0.26L0.6,-0.85L0.85,-0.6L0.26,0L0.85,0.6L0.6,0.85L0,0.26L-0.6,0.85L-0.85,0.6L-0.26,0Z", "M-0.87,-0.87H0.87V0.87H-0.87Z"]}, "legend": null}
         }}
      ],
      "resolve": {"scale": {"color": "independent", "shape": "independent"}, "legend": {"color": "independent", "shape": "independent"}}
    },
    {
      "width": 367.8, "height": 237,
      "data": {"name": "pref"},
      "transform": [{"filter": "datum.set === 'RMAT'"}],
      "encoding": {
        "x": {"field": "edges", "type": "ordinal", "scale": {"type": "point", "padding": 1}, "axis": {"labelAngle": -30, "labelAlign": "center", "labelBaseline": "middle", "labelPadding": 14, "title": "Number of edges (M)", "titleFontSize": 23, "titleX": 199, "titleY": 69, "titleBaseline": "middle", "grid": false}},
        "y": {"field": "v", "type": "quantitative", "scale": {"domain": [0, 100]}, "axis": {"values": [0, 20, 40, 60, 80, 100], "grid": true, "title": null}}
      },
      "layer": [
        {"mark": {"type": "point", "filled": true, "size": 1, "opacity": 1, "strokeWidth": 0},
         "encoding": {
           "color": {"field": "series", "type": "nominal", "scale": {"domain": ["PPTA", "PHT", "PPTA-SMT", "PHT-SMT"], "range": ["#ffa500", "#0000ff", "#a52a2a", "#008000"]},
             "legend": {"orient": "none", "legendX": 85, "legendY": 4, "title": null, "columns": 2, "columnPadding": 22, "rowPadding": 3, "padding": 6, "symbolSize": 196, "symbolOffset": 7, "labelOffset": 22, "symbolStrokeWidth": 0, "labelFontSize": 12}},
           "shape": {"field": "series", "type": "nominal", "scale": {"domain": ["PPTA", "PHT", "PPTA-SMT", "PHT-SMT"], "range": ["M-2,-0.2H2V0.2H-2Z M-0.9,0A0.9,0.9 0 1,1 0.9,0A0.9,0.9 0 1,1 -0.9,0Z", "M-2,-0.2H2V0.2H-2Z M-0.93,-0.79L0.93,-0.79L0,0.79Z", "M-2,-0.2H2V0.2H-2Z M-0.77,-0.54L-0.54,-0.77L0,-0.23L0.54,-0.77L0.77,-0.54L0.23,0L0.77,0.54L0.54,0.77L0,0.23L-0.54,0.77L-0.77,0.54L-0.23,0Z", "M-2,-0.2H2V0.2H-2Z M-0.79,-0.79H0.79V0.79H-0.79Z"]},
             "legend": {"orient": "none", "legendX": 85, "legendY": 4, "title": null, "columns": 2, "columnPadding": 22, "rowPadding": 3, "padding": 6, "symbolSize": 196, "symbolOffset": 7, "labelOffset": 22, "symbolStrokeWidth": 0, "labelFontSize": 12}}
         }},
        {"mark": {"type": "line", "strokeWidth": 3},
         "encoding": {"color": {"field": "series", "type": "nominal", "scale": {"domain": ["PPTA", "PHT", "PPTA-SMT", "PHT-SMT"], "range": ["#ffa500", "#0000ff", "#a52a2a", "#008000"]}, "legend": null}}},
        {"mark": {"type": "point", "filled": true, "size": 160, "opacity": 1, "strokeWidth": 0},
         "encoding": {
           "color": {"field": "series", "type": "nominal", "scale": {"domain": ["PPTA", "PHT", "PPTA-SMT", "PHT-SMT"], "range": ["#ffa500", "#0000ff", "#a52a2a", "#008000"]}, "legend": null},
           "shape": {"field": "series", "type": "nominal", "scale": {"domain": ["PPTA", "PHT", "PPTA-SMT", "PHT-SMT"], "range": ["circle", "M-1,-0.85L1,-0.85L0,0.85Z", "M-0.85,-0.6L-0.6,-0.85L0,-0.26L0.6,-0.85L0.85,-0.6L0.26,0L0.85,0.6L0.6,0.85L0,0.26L-0.6,0.85L-0.85,0.6L-0.26,0Z", "M-0.87,-0.87H0.87V0.87H-0.87Z"]}, "legend": null}
         }}
      ],
      "resolve": {"scale": {"color": "independent", "shape": "independent"}, "legend": {"color": "independent", "shape": "independent"}}
    },
    {
      "width": 361, "height": 237,
      "data": {"name": "pref"},
      "transform": [{"filter": "datum.set === 'SSCA'"}],
      "encoding": {
        "x": {"field": "edges", "type": "ordinal", "scale": {"type": "point", "padding": 0.938, "align": 0.538}, "axis": {"labelAngle": -30, "labelAlign": "center", "labelBaseline": "middle", "labelPadding": 14, "title": "Number of edges (M)", "titleFontSize": 23, "titleX": 199, "titleY": 69, "titleBaseline": "middle", "grid": false}},
        "y": {"field": "v", "type": "quantitative", "scale": {"domain": [0, 100]}, "axis": {"values": [0, 20, 40, 60, 80, 100], "grid": true, "title": null}}
      },
      "layer": [
        {"mark": {"type": "point", "filled": true, "size": 1, "opacity": 1, "strokeWidth": 0},
         "encoding": {
           "color": {"field": "series", "type": "nominal", "scale": {"domain": ["PPTA", "PHT", "PPTA-SMT", "PHT-SMT"], "range": ["#ffa500", "#0000ff", "#a52a2a", "#008000"]},
             "legend": {"orient": "none", "legendX": 85, "legendY": 4, "title": null, "columns": 2, "columnPadding": 22, "rowPadding": 3, "padding": 6, "symbolSize": 196, "symbolOffset": 7, "labelOffset": 22, "symbolStrokeWidth": 0, "labelFontSize": 12}},
           "shape": {"field": "series", "type": "nominal", "scale": {"domain": ["PPTA", "PHT", "PPTA-SMT", "PHT-SMT"], "range": ["M-2,-0.2H2V0.2H-2Z M-0.9,0A0.9,0.9 0 1,1 0.9,0A0.9,0.9 0 1,1 -0.9,0Z", "M-2,-0.2H2V0.2H-2Z M-0.93,-0.79L0.93,-0.79L0,0.79Z", "M-2,-0.2H2V0.2H-2Z M-0.77,-0.54L-0.54,-0.77L0,-0.23L0.54,-0.77L0.77,-0.54L0.23,0L0.77,0.54L0.54,0.77L0,0.23L-0.54,0.77L-0.77,0.54L-0.23,0Z", "M-2,-0.2H2V0.2H-2Z M-0.79,-0.79H0.79V0.79H-0.79Z"]},
             "legend": {"orient": "none", "legendX": 85, "legendY": 4, "title": null, "columns": 2, "columnPadding": 22, "rowPadding": 3, "padding": 6, "symbolSize": 196, "symbolOffset": 7, "labelOffset": 22, "symbolStrokeWidth": 0, "labelFontSize": 12}}
         }},
        {"mark": {"type": "line", "strokeWidth": 3},
         "encoding": {"color": {"field": "series", "type": "nominal", "scale": {"domain": ["PPTA", "PHT", "PPTA-SMT", "PHT-SMT"], "range": ["#ffa500", "#0000ff", "#a52a2a", "#008000"]}, "legend": null}}},
        {"mark": {"type": "point", "filled": true, "size": 160, "opacity": 1, "strokeWidth": 0},
         "encoding": {
           "color": {"field": "series", "type": "nominal", "scale": {"domain": ["PPTA", "PHT", "PPTA-SMT", "PHT-SMT"], "range": ["#ffa500", "#0000ff", "#a52a2a", "#008000"]}, "legend": null},
           "shape": {"field": "series", "type": "nominal", "scale": {"domain": ["PPTA", "PHT", "PPTA-SMT", "PHT-SMT"], "range": ["circle", "M-1,-0.85L1,-0.85L0,0.85Z", "M-0.85,-0.6L-0.6,-0.85L0,-0.26L0.6,-0.85L0.85,-0.6L0.26,0L0.85,0.6L0.6,0.85L0,0.26L-0.6,0.85L-0.85,0.6L-0.26,0Z", "M-0.87,-0.87H0.87V0.87H-0.87Z"]}, "legend": null}
         }}
      ],
      "resolve": {"scale": {"color": "independent", "shape": "independent"}, "legend": {"color": "independent", "shape": "independent"}}
    }
  ],
  "resolve": {
    "scale": {"x": "independent", "y": "independent", "xOffset": "independent", "color": "independent", "shape": "independent", "fill": "independent", "stroke": "independent"},
    "legend": {"color": "independent", "shape": "independent", "fill": "independent", "stroke": "independent"}
  },
  "config": {
    "font": "Liberation Serif",
    "view": {"stroke": "black", "strokeWidth": 1.3},
    "axis": {"domainColor": "black", "domainWidth": 1.3, "tickColor": "black", "tickWidth": 1.3, "tickSize": 7, "labelFont": "Liberation Serif", "labelFontSize": 18.5, "labelColor": "black", "labelPadding": 5, "titleFont": "Liberation Serif", "titleFontSize": 20, "titleFontWeight": "normal", "titleColor": "black", "gridColor": "#b0b0b0", "gridWidth": 1.5},
    "legend": {"labelFont": "Liberation Serif", "labelColor": "black", "strokeColor": "#cccccc", "fillColor": "rgba(255,255,255,0.85)", "cornerRadius": 3},
    "title": {"font": "Liberation Serif", "fontSize": 24, "fontWeight": "normal", "color": "black"}
  }
}
